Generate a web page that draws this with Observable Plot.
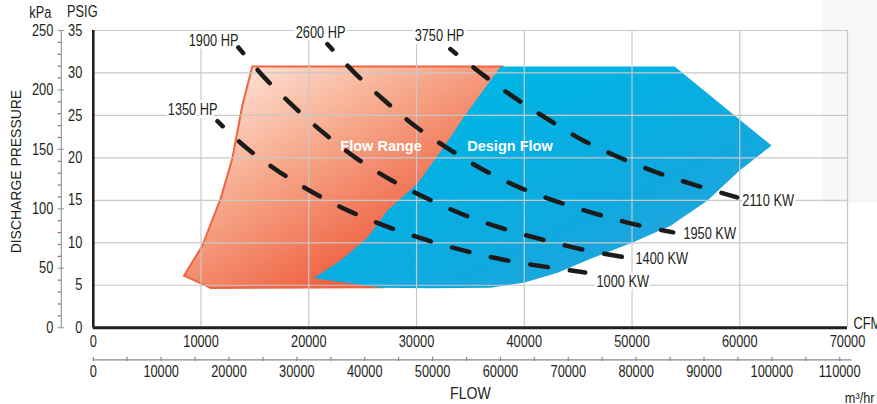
<!DOCTYPE html>
<html><head><meta charset="utf-8">
<script src="https://cdn.jsdelivr.net/npm/d3@7"></script>
<script src="https://cdn.jsdelivr.net/npm/@observablehq/plot@0.6"></script>
<style>
html,body{margin:0;padding:0;background:#fff;}
#wrap{position:relative;width:877px;height:404px;overflow:hidden;}
#shade{position:absolute;left:822px;top:0;width:55px;height:203px;background:#f6f8f8;}
#chart{position:absolute;left:0;top:0;}
#chart svg{background:transparent;}
</style></head><body>
<div id="wrap"><div id="shade"></div><div id="chart"></div></div>
<script>
// ---- tick values ----
const cfmTicks = [0, 10000, 20000, 30000, 40000, 50000, 60000, 70000];
const psigTicks = [0, 5, 10, 15, 20, 25, 30, 35];
const kpaMajor = [0, 50, 100, 150, 200, 250];
const kpaMinor = [10, 20, 30, 40, 60, 70, 80, 90, 110, 120, 130, 140, 160, 170, 180, 190, 210, 220, 230, 240];
const m3Major = [0, 10000, 20000, 30000, 40000, 50000, 60000, 70000, 80000, 90000, 100000, 110000];
const m3Minor = [5000, 15000, 25000, 35000, 45000, 55000, 65000, 75000, 85000, 95000, 105000];
const m3AxisEnd = 111800;
// secondary axes as drawn on the chart (kPa 250 aligned with 35 PSIG, etc.)
const KPA_TO_PSIG = 35 / 250;
const M3_TO_CFM = 0.6298;

// ---- regions [CFM, PSIG] ----
const flowRange = [[14759,30.76],[38000,30.76],[34000,21],[30500,13],[27000,4.75],[10891,4.68],[8414,6.13],[10121,9.66],[11818,15.2],[12903,19.92],[13831,26.17],[14759,30.76]];
const designFlow = [[37811,30.76],[53952,30.76],[62950,21.45],[59981,18.5],[57013,14.97],[53581,12.02],[50056,10.02],[46160,8.13],[43098,6.48],[39944,5.3],[36883,4.71],[31317,4.65],[26679,4.71],[20464,5.83],[22950,7.9],[25455,10.61],[27300,13.79],[30093,16.97],[32505,21.21],[34360,24.75],[37811,30.76]];

// ---- power lines [CFM, PSIG] ----
const line1350 = [[11521,24.32],[14258,21.13],[17319,18.3],[20520,15.83],[23813,13.7],[27338,11.87],[30909,10.34],[34527,9.04],[38191,7.98],[42041,7.16],[45659,6.51]];
const line1900 = [[13469,33.0],[16067,29.21],[18757,25.85],[21586,22.72],[24555,19.83],[27848,17.24],[31234,15.06],[34759,13.11],[38284,11.58],[41948,10.28],[45566,9.16],[49369,8.28]];
const line2600 = [[21725,33.4],[24369,29.86],[27106,26.67],[29889,23.73],[33043,21.01],[36197,18.6],[39536,16.53],[42968,14.88],[46494,13.47],[50065,12.23],[53822,11.23]];
const line3750 = [[33136,32.81],[36150,29.8],[39165,27.03],[42273,24.49],[45519,22.02],[48905,20.01],[52384,18.24],[55955,16.77],[59759,15.35]];

// ---- labels ----
const hpNames = ["1350 HP", "1900 HP", "2600 HP", "3750 HP"];
const hpLabelX = [9221, 11169, 21095, 32134];
const hpLabelY = [25.7, 33.82, 34.76, 34.41];
const kwNames = ["1000 KW", "1400 KW", "1950 KW", "2110 KW"];
const kwLabelX = [46698, 50315, 54768, 60241];
const kwLabelY = [5.42, 8.13, 11.08, 14.97];
const regionNames = ["Flow Range", "Design Flow"];
const regionX = [26707, 38673];
const regionY = [21.33, 21.33];

const hpLines = [line1350, line1900, line2600, line3750];
const hpLabels = hpNames.map((t, i) => ({t, x: hpLabelX[i], y: hpLabelY[i]}));
const kwLabels = kwNames.map((t, i) => ({t, x: kwLabelX[i], y: kwLabelY[i]}));
const regionLabels = regionNames.map((t, i) => ({t, x: regionX[i], y: regionY[i]}));

const FONT = '"Liberation Sans",Arial,Helvetica,sans-serif';
const FS = 16;
const INK = "#231f20";
const GRID = "#c8c8c8";
const X = d => d[0], Y = d => d[1];

const plot = Plot.plot({
  width: 877,
  height: 404,
  marginLeft: 92.8,
  marginRight: 30,
  marginTop: 30,
  marginBottom: 76.8,
  x: {domain: [0, 70000], axis: null},
  y: {domain: [0, 35], axis: null},
  style: {fontFamily: FONT, fontSize: FS + "px", color: INK, background: "transparent"},
  marks: [
    // regions
    Plot.line(flowRange, {x: X, y: Y, fill: "url(#gradRed)", stroke: "#ee6444", strokeWidth: 2, strokeLinejoin: "round"}),
    Plot.line(designFlow, {x: X, y: Y, fill: "url(#gradBlue)", stroke: "none"}),
    // grid
    Plot.ruleX(cfmTicks.slice(1), {x: d => d, y1: 0, y2: 35, stroke: GRID, strokeWidth: 1.2}),
    Plot.ruleY(psigTicks.slice(1), {y: d => d, x1: 0, x2: 70000, stroke: GRID, strokeWidth: 1.2}),
    // power lines
    ...hpLines.map(pts => Plot.line(pts, {x: X, y: Y, curve: "catmull-rom", stroke: "#1b1b1b", strokeWidth: 4.5,
      strokeDasharray: "18,22", strokeDashoffset: 10.5, strokeLinecap: "round"})),
    // line labels
    Plot.text(hpLabels, {x: "x", y: "y", text: "t", fontSize: FS, fill: INK, stroke: "white", strokeWidth: 6}),
    Plot.text(kwLabels, {x: "x", y: "y", text: "t", textAnchor: "start", fontSize: FS, fill: INK, stroke: "white", strokeWidth: 6}),
    Plot.text(regionLabels, {x: "x", y: "y", text: "t", fill: "white", fontWeight: "bold", fontSize: 14.5}),
    // main axes
    Plot.ruleX([0], {x: d => d, y1: 0, y2: 35, stroke: INK, strokeWidth: 2.6}),
    Plot.ruleY([0], {y: d => d, x1: 0, x2: 70000, stroke: INK, strokeWidth: 3}),
    // PSIG labels
    Plot.text(psigTicks, {x: 0, y: d => d, text: d => String(d), dx: -11, textAnchor: "end", fontSize: FS, fill: INK}),
    // kPa axis
    Plot.ruleX([0], {x: d => d, y1: 0, y2: 250 * KPA_TO_PSIG, dx: -32, stroke: "#9a9a9a", strokeWidth: 1.2}),
    Plot.ruleY(kpaMinor, {y: d => d * KPA_TO_PSIG, x1: 0, x2: 0, dx: -32, insetLeft: -3, insetRight: 0, stroke: "#a8517f", strokeWidth: 1.2}),
    Plot.ruleY(kpaMajor, {y: d => d * KPA_TO_PSIG, x1: 0, x2: 0, dx: -32, insetLeft: -3, insetRight: -3, stroke: "#9a9a9a", strokeWidth: 1.2}),
    Plot.text(kpaMajor, {x: 0, y: d => d * KPA_TO_PSIG, text: d => String(d), dx: -40, textAnchor: "end", fontSize: FS, fill: INK}),
    Plot.text(["kPa"], {x: 0, y: 35, text: d => d, dx: -53, dy: -18, fontSize: FS, fill: INK}),
    Plot.text(["PSIG"], {x: 0, y: 35, text: d => d, dx: -11, dy: -19, fontSize: FS, fill: INK}),
    Plot.text(["DISCHARGE PRESSURE"], {frameAnchor: "left", text: d => d, textAnchor: "middle", lineAnchor: "middle",
      dx: -77.5, dy: -7.5, rotate: -90, fontSize: 15.5, fill: INK}),
    // CFM axis labels
    Plot.text(cfmTicks, {x: d => d, y: 0, text: d => String(d), dy: 14.5, fontSize: FS, fill: INK}),
    Plot.text(["CFM"], {x: 70000, y: 0, text: d => d, dx: 6, dy: -4, textAnchor: "start", fontSize: FS, fill: INK}),
    // m3/hr axis
    Plot.ruleY([0], {y: d => d, x1: 0, x2: m3AxisEnd * M3_TO_CFM, dy: 32.2, stroke: "#8a8a8a", strokeWidth: 1.2}),
    Plot.ruleX(m3Major.concat(m3Minor), {x: d => d * M3_TO_CFM, y1: 0, y2: 0, dy: 32.2, insetTop: -2.5, insetBottom: -1.5, stroke: "#8a8a8a", strokeWidth: 1.2}),
    Plot.text(m3Major, {x: d => d * M3_TO_CFM, y: 0, text: d => String(d), dy: 44.5, fontSize: FS, fill: INK}),
    Plot.text(["m³/hr"], {x: 70000, y: 0, text: d => d, dx: 27, dy: 70, textAnchor: "end", fontSize: 15, fill: INK}),
    Plot.text(["FLOW"], {frameAnchor: "bottom", text: d => d, lineAnchor: "middle", dy: 66, fontSize: FS, fill: INK})
  ]
});

d3.select(plot).insert("defs", ":first-child").html(`
  <linearGradient id="gradRed" x1="0.18" y1="0.02" x2="0.81" y2="0.74">
    <stop offset="0" stop-color="#fde0d2"/>
    <stop offset="0.45" stop-color="#f6a587"/>
    <stop offset="1" stop-color="#ee5a3a"/>
  </linearGradient>
  <linearGradient id="gradBlue" x1="0.3" y1="0.2" x2="1" y2="0.9">
    <stop offset="0" stop-color="#00b4e4"/>
    <stop offset="0.55" stop-color="#0fa9df"/>
    <stop offset="1" stop-color="#33a0d9"/>
  </linearGradient>`);

// condense the text horizontally to mimic the chart's condensed typeface
d3.select(plot).selectAll("text").each(function () {
  const el = this;
  const s = el.textContent;
  const k = regionNames.includes(s) ? 1 : s === "DISCHARGE PRESSURE" ? 0.9 : s === "FLOW" ? 0.88 : s === "m³/hr" ? 0.85 : 0.8;
  if (k === 1) return;
  let t = el.getAttribute("transform") || "";
  const xa = el.getAttribute("x");
  if (xa !== null && isFinite(+xa)) {
    el.removeAttribute("x");
    t = `translate(${+xa},0) ` + t;
  }
  el.setAttribute("transform", (t + ` scale(${k},1)`).trim());
});

document.getElementById("chart").appendChild(plot);
</script>
</body></html>
